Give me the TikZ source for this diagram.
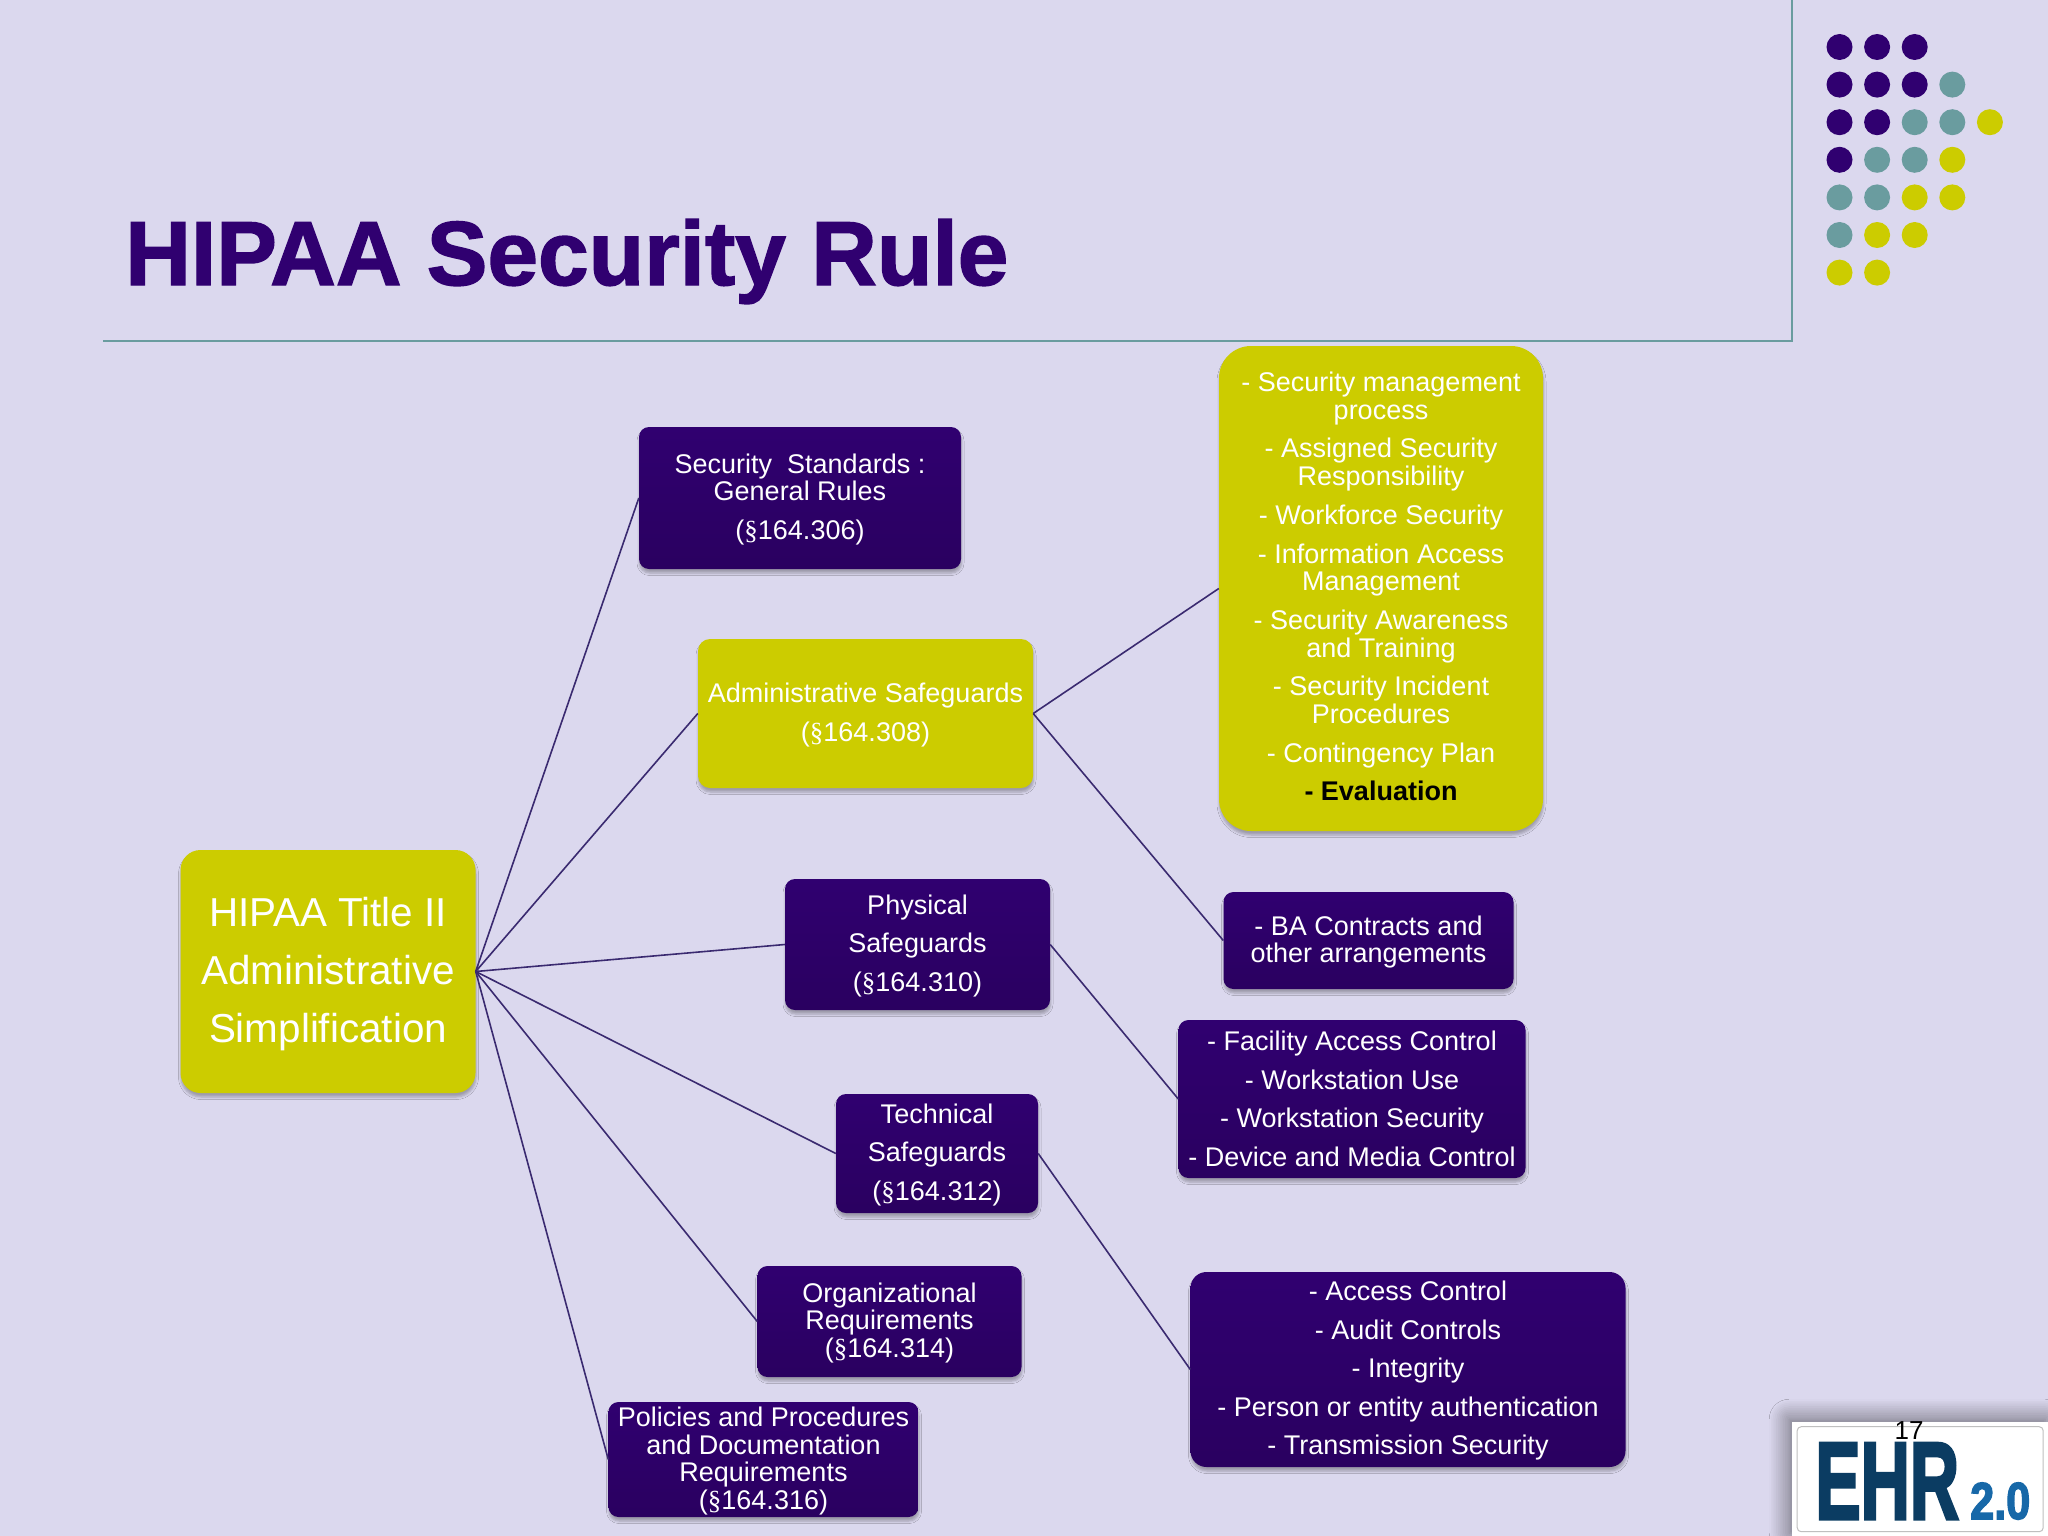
\documentclass[tikz,border=0pt]{standalone}
\usepackage{fontspec}
\setmainfont{Liberation Sans}
\newfontfamily\secf{Liberation Serif}
\newfontfamily\heavyf[FakeBold=1.6]{Liberation Sans Bold}
\newfontfamily\logof[FakeBold=3]{Liberation Sans Bold}
\usetikzlibrary{shadows,shadows.blur}
\definecolor{bgc}{HTML}{DBD8EE}
\definecolor{pur}{HTML}{300070}
\definecolor{purd}{HTML}{2A0060}
\definecolor{yel}{HTML}{CCCC00}
\definecolor{teal}{HTML}{6A9C9F}
\definecolor{linec}{HTML}{3A2A70}
\definecolor{ehr}{HTML}{0B3C62}
\definecolor{ehrb}{HTML}{1768A8}
\newcommand{\sect}{{\secf§}}
\newcommand{\dnrule}{\rule{0pt}{22.5pt}}
\tikzset{x=1pt,y=-1pt,
 boxbase/.style={align=center,text=white,inner sep=0pt,font=\fontsize{27}{27.5}\selectfont,
   blur shadow={shadow xshift=0.5pt,shadow yshift=-4pt,shadow blur radius=2.5pt,shadow blur steps=5,shadow opacity=28}},
 purbox/.style={boxbase,rounded corners=10pt,top color=pur,bottom color=purd},
 yelbox/.style={boxbase,rounded corners=12pt,fill=yel},
 link/.style={draw=linec,line width=1.6pt},
 dotp/.style={circle,fill=pur,minimum size=26pt,inner sep=0pt},
 dott/.style={circle,fill=teal,minimum size=26pt,inner sep=0pt},
 doty/.style={circle,fill=yel,minimum size=26pt,inner sep=0pt},
}
\begin{document}
\begin{tikzpicture}
\useasboundingbox (0,0) rectangle (2048,1536);
\fill[bgc] (0,0) rectangle (2048,1536);
% frame
\draw[teal,line width=2pt] (103,341) -- (1792,341) -- (1792,0);
% title
\node[anchor=base west,text=pur,inner sep=0pt,font=\fontsize{91}{91}\selectfont\heavyf] (title) at (125,285) {HIPAA Security Rule};
% dots
\foreach \c/\r/\s in {0/0/dotp,1/0/dotp,2/0/dotp,
 0/1/dotp,1/1/dotp,2/1/dotp,3/1/dott,
 0/2/dotp,1/2/dotp,2/2/dott,3/2/dott,4/2/doty,
 0/3/dotp,1/3/dott,2/3/dott,3/3/doty,
 0/4/dott,1/4/dott,2/4/doty,3/4/doty,
 0/5/dott,1/5/doty,2/5/doty,
 0/6/doty,1/6/doty}
 \node[\s] (d\c\r) at ({1839.5+37.6*\c},{47+37.6*\r}) {};
% boxes
\node[yelbox,rounded corners=20pt,minimum width=295pt,minimum height=243pt,font=\fontsize{40.4}{58}\selectfont] (root) at (328,971.5) {\rule{0pt}{34pt}HIPAA Title II\\Administrative\\Simplification};
\node[purbox,minimum width=322pt,minimum height=142pt] (std) at (800,498) {\dnrule Security\ \ Standards :\\General Rules\\[11pt](\sect164.306)};
\node[yelbox,minimum width=335pt,minimum height=149pt] (adm) at (865.5,713.5) {\dnrule Administrative Safeguards\\[11pt](\sect164.308)};
\node[purbox,minimum width=265pt,minimum height=131pt] (phy) at (917.5,944.5) {\dnrule Physical\\[11pt]Safeguards\\[11pt](\sect164.310)};
\node[purbox,minimum width=202pt,minimum height=119pt] (tec) at (937,1153.5) {\dnrule Technical\\[11pt]Safeguards\\[11pt](\sect164.312)};
\node[purbox,minimum width=264pt,minimum height=111pt] (org) at (889.5,1321.5) {\dnrule Organizational\\Requirements\\(\sect164.314)};
\node[purbox,minimum width=310pt,minimum height=115pt] (pol) at (763.5,1459.5) {\dnrule Policies and Procedures\\and Documentation\\Requirements\\(\sect164.316)};
\node[yelbox,rounded corners=32pt,minimum width=324pt,minimum height=485pt,font=\fontsize{27}{27.7}\selectfont] (lst) at (1381,588.5) {- Security management\\process\\[11pt]- Assigned Security\\Responsibility\\[11pt]- Workforce Security\\[11pt]- Information Access\\Management\\[11pt]- Security Awareness\\and Training\\[11pt]- Security Incident\\Procedures\\[11pt]- Contingency Plan\\[11pt]\textcolor{black}{\bfseries - Evaluation}\rule[-4.1pt]{0pt}{1pt}};
\node[purbox,minimum width=290pt,minimum height=97pt] (ba) at (1368.5,940.5) {\dnrule - BA Contracts and\\other arrangements};
\node[purbox,minimum width=347pt,minimum height=158pt] (fac) at (1352,1099) {- Facility Access Control\\[11pt]- Workstation Use\\[11pt]- Workstation Security\\[11pt]- Device and Media Control};
\node[purbox,rounded corners=16pt,minimum width=435pt,minimum height=195pt] (acc) at (1408,1369.5) {\dnrule - Access Control\\[11pt]- Audit Controls\\[11pt]- Integrity\\[11pt]- Person or entity authentication\\[11pt]- Transmission Security};
% connectors
\foreach \a in {std,adm,phy,tec,org,pol} \draw[link] (root.east) -- (\a.west);
\draw[link] (adm.east) -- (lst.west);
\draw[link] (adm.east) -- (ba.west);
\draw[link] (phy.east) -- (fac.west);
\draw[link] (tec.east) -- (acc.west);
% logo
\node[fill=white,minimum width=256pt,minimum height=114pt,inner sep=0pt,anchor=north west,
  blur shadow={shadow xshift=-3pt,shadow yshift=3pt,shadow blur radius=20pt,shadow blur steps=12,shadow opacity=55}] (logo) at (1792,1422) {};
\node[draw=black!25,line width=1pt,rounded corners=4pt,minimum width=246pt,minimum height=105pt,inner sep=0pt] (logoin) at (logo.center) {};
\node[anchor=base west,inner sep=0pt,text=ehr,font=\fontsize{110}{110}\selectfont\logof] (ehrt) at (1815,1519) {\scalebox{.62}[1]{EHR}};
\node[anchor=base west,inner sep=0pt,text=ehrb,font=\fontsize{52}{52}\selectfont\logof] (ver) at (1970,1519) {\scalebox{.83}[1]{2.0}};
\node[anchor=base,inner sep=0pt,text=black,font=\fontsize{26}{26}\selectfont] (pg) at (1909,1439) {17};
\end{tikzpicture}
\end{document}
